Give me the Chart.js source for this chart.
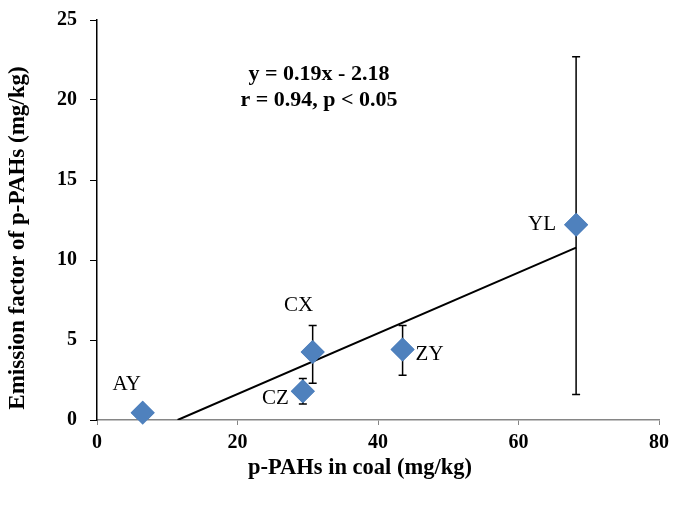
<!DOCTYPE html>
<html>
<head>
<meta charset="utf-8">
<script src="https://cdn.jsdelivr.net/npm/chart.js@4.4.1/dist/chart.umd.min.js"></script>
<style>
  html, body { margin: 0; padding: 0; background: #fff; }
  #wrap { width: 675px; height: 509px; }
</style>
</head>
<body>
<div id="wrap"><canvas id="c" width="675" height="509"></canvas></div>
<script>
// coal sites and their values
var sites = ["AY", "CZ", "CX", "ZY", "YL"];
var coalPAHs = [6.5, 29.3, 30.7, 43.5, 68.2];        // p-PAHs in coal (mg/kg)
var emission = [0.45, 1.8, 4.25, 4.4, 12.2];          // emission factor (mg/kg)
var errLow = [null, 1.0, 2.3, 2.8, 1.6];
var errHigh = [null, 2.6, 5.9, 5.9, 22.7];
var slope = 0.19;
var intercept = -2.18;
var equationLines = ["y = 0.19x - 2.18", "r = 0.94, p < 0.05"];
var xTitle = "p-PAHs in coal (mg/kg)";
var yTitle = "Emission factor of p-PAHs (mg/kg)";

var serif = "'Liberation Serif', 'Times New Roman', serif";

var points = coalPAHs.map(function(x, i) {
  return { x: x, y: emission[i] };
});
var xStart = -intercept / slope;
var xEnd = coalPAHs[coalPAHs.length - 1];
var fitLine = [
  { x: xStart, y: slope * xStart + intercept },
  { x: xEnd, y: slope * xEnd + intercept }
];

// where each label sits relative to its marker (pixels)
var labelOffsets = {
  AY: [-16, -28, "center"],
  CZ: [-14, 7, "right"],
  CX: [-14, -47, "center"],
  ZY: [13, 5, "left"],
  YL: [-20, 0, "right"]
};

var extras = {
  id: "extras",
  afterDatasetsDraw: function(chart) {
    var ctx = chart.ctx;
    var xs = chart.scales.x;
    var ys = chart.scales.y;
    ctx.save();
    // error bars
    ctx.strokeStyle = "#000";
    ctx.lineWidth = 1.5;
    coalPAHs.forEach(function(x, i) {
      if (errLow[i] === null) return;
      var px = xs.getPixelForValue(x);
      var top = ys.getPixelForValue(errHigh[i]);
      var bot = ys.getPixelForValue(errLow[i]);
      ctx.beginPath();
      ctx.moveTo(px, top); ctx.lineTo(px, bot);
      ctx.moveTo(px - 4, top); ctx.lineTo(px + 4, top);
      ctx.moveTo(px - 4, bot); ctx.lineTo(px + 4, bot);
      ctx.stroke();
    });
    // redraw markers on top of bars
    var meta = chart.getDatasetMeta(0);
    meta.data.forEach(function(el) { el.draw(ctx); });
    // site labels
    ctx.fillStyle = "#000";
    ctx.font = "21px " + serif;
    ctx.textBaseline = "middle";
    sites.forEach(function(s, i) {
      var px = xs.getPixelForValue(coalPAHs[i]);
      var py = ys.getPixelForValue(emission[i]);
      var o = labelOffsets[s];
      ctx.textAlign = o[2];
      ctx.fillText(s, px + o[0], py + o[1]);
    });
    // equation
    ctx.font = "bold 22px " + serif;
    ctx.textAlign = "center";
    var ex = xs.getPixelForValue(31.6);
    var ey = ys.getPixelForValue(21.6);
    ctx.fillText(equationLines[0], ex, ey);
    ctx.fillText(equationLines[1], ex, ey + 26);
    // axis titles (sit a little off-centre in the original)
    ctx.font = "bold 22.5px " + serif;
    ctx.fillText(xTitle, 360, 468);
    ctx.translate(18, 238);
    ctx.rotate(-Math.PI / 2);
    ctx.font = "bold 23px " + serif;
    ctx.fillText(yTitle, 0, 0);
    ctx.restore();
  }
};

new Chart(document.getElementById("c"), {
  type: "scatter",
  data: {
    datasets: [
      {
        data: points,
        pointStyle: "rectRot",
        pointRadius: 12,
        pointHoverRadius: 12,
        backgroundColor: "#4F81BD",
        borderColor: "#4F81BD",
        borderWidth: 0
      },
      {
        type: "line",
        data: fitLine,
        borderColor: "#000",
        borderWidth: 2,
        pointRadius: 0,
        fill: false
      }
    ]
  },
  options: {
    responsive: false,
    animation: false,
    events: [],
    layout: { padding: { top: 20, right: 15, left: 0, bottom: 0 } },
    plugins: { legend: { display: false }, tooltip: { enabled: false } },
    scales: {
      x: {
        type: "linear",
        min: 0,
        max: 80,
        afterFit: function(s) { s.height = 89; },
        ticks: {
          stepSize: 20,
          color: "#000",
          padding: 6,
          font: { family: serif, size: 20, weight: "bold" }
        },
        grid: { drawOnChartArea: false, color: "#868686", tickLength: 5 },
        border: { color: "#868686", width: 1.5 }
      },
      y: {
        min: 0,
        max: 25,
        afterFit: function(s) {
          s.width = 97;
          s.paddingTop = 0;
          s.paddingBottom = 0;
        },
        ticks: {
          stepSize: 5,
          color: "#000",
          padding: 13,
          font: { family: serif, size: 20, weight: "bold" }
        },
        grid: { drawOnChartArea: false, color: "#000", tickLength: 7 },
        border: { color: "#000", width: 1.5 }
      }
    }
  },
  plugins: [extras]
});
</script>
</body>
</html>
